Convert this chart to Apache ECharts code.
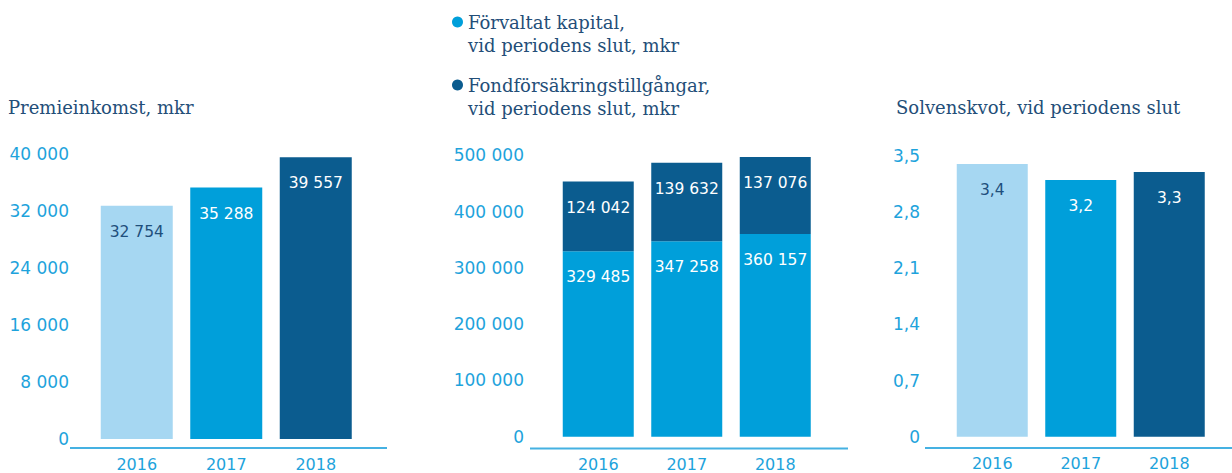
<!DOCTYPE html>
<html>
<head>
<meta charset="utf-8">
<script src="https://cdn.jsdelivr.net/npm/echarts@6/dist/echarts.min.js"></script>
<style>
html,body{margin:0;padding:0;background:#fff;}
#c{width:1232px;height:473px;}
</style>
</head>
<body>
<div id="c"></div>
<script>
// ---- data ----
var categories = ['2016', '2017', '2018'];
var premieinkomst = [32754, 35288, 39557];
var forvaltatKapital = [329485, 347258, 360157];
var fondforsakring = [124042, 139632, 137076];
var solvenskvot = [3.4, 3.2, 3.3];

var titles = ['Premieinkomst, mkr', 'Solvenskvot, vid periodens slut'];
var seriesNames = ['Förvaltat kapital, vid periodens slut, mkr', 'Fondförsäkringstillgångar, vid periodens slut, mkr'];

// ---- styles ----
var NAVY = '#234e78';
var AXIS_BLUE = '#1ea3dc';
var barColors = ['#a6d7f2', '#009fda', '#0b5c8f'];
var labelColors = ['#1f4f7c', '#ffffff', '#ffffff'];
var SANS = 'DejaVu Sans';
var SERIF = 'DejaVu Serif';

function fmtThousands(v) {
  return String(Math.round(v)).replace(/\B(?=(\d{3})+(?!\d))/g, ' ');
}
function fmtDec(v) {
  if (v === 0) return '0';
  return v.toFixed(1).replace('.', ',');
}

function coloredData(values) {
  return values.map(function (v, i) {
    return { value: v, itemStyle: { color: barColors[i] }, label: { color: labelColors[i] } };
  });
}

function xAxisCfg(gridIndex, margin) {
  return {
    type: 'category', gridIndex: gridIndex, data: categories,
    axisLine: { show: false }, axisTick: { show: false },
    axisLabel: { color: AXIS_BLUE, fontFamily: SANS, fontSize: 16, margin: margin }
  };
}
function yAxisCfg(gridIndex, max, interval, fmt, margin) {
  return {
    type: 'value', gridIndex: gridIndex, min: 0, max: max, interval: interval,
    axisLine: { show: false }, axisTick: { show: false }, splitLine: { show: false },
    axisLabel: { color: AXIS_BLUE, fontFamily: SANS, fontSize: 17, margin: margin, formatter: fmt }
  };
}

var legendText = { fontFamily: SERIF, fontSize: 18, color: NAVY, lineHeight: 23 };
// legend label: blank first line so that the first text line sits level with the dot
function legendFmt(n) { return ' \n' + n.replace(', vid', ',\nvid'); }

var chart = echarts.init(document.getElementById('c'), null, { renderer: 'svg' });
chart.setOption({
  animation: false,
  backgroundColor: '#ffffff',
  title: [
    { text: titles[0], left: 8, top: 98, padding: 0,
      textStyle: { fontFamily: SERIF, fontSize: 18, fontWeight: 'normal', color: NAVY } },
    { text: titles[1], left: 896, top: 98, padding: 0,
      textStyle: { fontFamily: SERIF, fontSize: 18, fontWeight: 'normal', color: NAVY } }
  ],
  legend: [
    { data: [seriesNames[0]], orient: 'vertical', left: 452, top: -12.5, padding: 0,
      icon: 'circle', itemWidth: 11, itemHeight: 11, selectedMode: false,
      formatter: legendFmt, textStyle: legendText },
    { data: [seriesNames[1]], orient: 'vertical', left: 452, top: 50.5, padding: 0,
      icon: 'circle', itemWidth: 11, itemHeight: 11, selectedMode: false,
      formatter: legendFmt, textStyle: legendText }
  ],
  grid: [
    { left: 92, top: 154, width: 268.5, height: 285 },
    { left: 554, top: 155.4, width: 265.5, height: 281.3 },
    { left: 948, top: 156, width: 265.5, height: 280.7 }
  ],
  xAxis: [xAxisCfg(0, 17), xAxisCfg(1, 20), xAxisCfg(2, 19)],
  yAxis: [
    yAxisCfg(0, 40000, 8000, fmtThousands, 23),
    yAxisCfg(1, 500000, 100000, fmtThousands, 30),
    yAxisCfg(2, 3.5, 0.7, fmtDec, 28)
  ],
  graphic: [
    { type: 'line', shape: { x1: 70, y1: 448, x2: 387, y2: 448 }, style: { stroke: '#45b1e2', lineWidth: 2 }, silent: true },
    { type: 'line', shape: { x1: 530, y1: 448.5, x2: 848, y2: 448.5 }, style: { stroke: '#45b1e2', lineWidth: 2 }, silent: true },
    { type: 'line', shape: { x1: 925, y1: 448, x2: 1232, y2: 448 }, style: { stroke: '#45b1e2', lineWidth: 2 }, silent: true }
  ],
  series: [
    { type: 'bar', name: 'Premieinkomst, mkr', xAxisIndex: 0, yAxisIndex: 0, barWidth: 72,
      data: coloredData(premieinkomst),
      label: { show: true, position: 'insideTop', distance: 18, fontFamily: SANS, fontSize: 15.5,
        formatter: function (p) { return fmtThousands(p.value); } } },
    { type: 'bar', name: seriesNames[0], xAxisIndex: 1, yAxisIndex: 1, barWidth: 71, stack: 'tot',
      data: forvaltatKapital, itemStyle: { color: barColors[1] },
      label: { show: true, position: 'insideTop', distance: 18, color: '#ffffff', fontFamily: SANS, fontSize: 15.5,
        formatter: function (p) { return fmtThousands(p.value); } } },
    { type: 'bar', name: seriesNames[1], xAxisIndex: 1, yAxisIndex: 1, barWidth: 71, stack: 'tot',
      data: fondforsakring, itemStyle: { color: barColors[2] },
      label: { show: true, position: 'insideTop', distance: 18, color: '#ffffff', fontFamily: SANS, fontSize: 15.5,
        formatter: function (p) { return fmtThousands(p.value); } } },
    { type: 'bar', name: 'Solvenskvot, vid periodens slut', xAxisIndex: 2, yAxisIndex: 2, barWidth: 71,
      data: coloredData(solvenskvot),
      label: { show: true, position: 'insideTop', distance: 18, fontFamily: SANS, fontSize: 15.5,
        formatter: function (p) { return fmtDec(p.value); } } }
  ]
});
</script>
</body>
</html>
